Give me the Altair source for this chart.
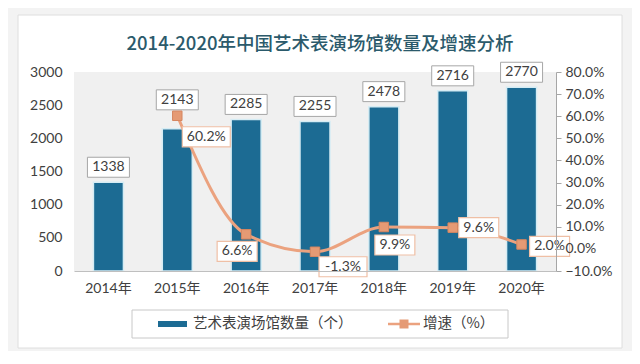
import altair as alt
import pandas as pd

# ---------------- data ----------------
years = ['2014年', '2015年', '2016年', '2017年', '2018年', '2019年', '2020年']
counts = [1338, 2143, 2285, 2255, 2478, 2716, 2770]
growth = [None, 60.2, 6.6, -1.3, 9.9, 9.6, 2.0]
left_ticks = [0, 500, 1000, 1500, 2000, 2500, 3000]
right_ticks = [-10, 0, 10, 20, 30, 40, 50, 60, 70, 80]

TITLE = '2014-2020年中国艺术表演场馆数量及增速分析'
LBL_BAR = '艺术表演场馆数量（个）'
LBL_LINE = '增速（%）'

df = pd.DataFrame({'year': years, 'count': counts, 'growth': growth})
df['count_label'] = df['count'].astype(str)
df['growth_label'] = [f'{g:.1f}%' if pd.notna(g) else '' for g in df['growth']]

# ---------------- style ----------------
W, H = 482, 199
FONT = "Lato, 'Noto Sans CJK SC', sans-serif"
CJK = "'Noto Sans CJK SC', sans-serif"
BLUE = '#1c6b93'
SALMON = '#eba27f'
TXT = '#404040'

# label placement relative to the data point (style, per category)
bar_label_dy = {'2015年': -29}
pct_label_off = {
    '2015年': (29, 21), '2016年': (-9, 17), '2017年': (28, 15),
    '2018年': (11, 18), '2019年': (26, 0), '2020年': (28, 2),
}


def box_path(w, h):
    r = h / w
    return f'M-1,{-r:.3f}H1V{r:.3f}H-1Z'


x = alt.X('year:N', sort=years, title=None,
          scale=alt.Scale(paddingInner=0, paddingOuter=0),
          axis=alt.Axis(orient='bottom', labelAngle=0, ticks=False, grid=False,
                        domainColor='#bfbfbf', labelFont=FONT, labelFontSize=14,
                        labelColor=TXT, labelPadding=10, zindex=1))

yL = alt.Y('count:Q', title=None,
           scale=alt.Scale(domain=[0, 3000], nice=False),
           axis=alt.Axis(orient='left', values=left_ticks, format='d', domain=False,
                         ticks=False, grid=False, labelPadding=12, labelFont=FONT,
                         labelFontSize=14, labelColor=TXT, zindex=1))

yR = alt.Y('growth:Q', title=None,
           scale=alt.Scale(domain=[-10, 80], nice=False),
           axis=alt.Axis(orient='right', values=right_ticks,
                         labelExpr="format(datum.value, '.1f') + '%'",
                         domainColor='#a6a6a6', tickColor='#a6a6a6', tickSize=5,
                         grid=False, labelPadding=4, labelFont=FONT, labelFontSize=14,
                         labelColor=TXT, zindex=1))

# ---------------- decorations (card, title, plot background, legend) ----------------
one = alt.Data(values=[{}])
card = alt.Chart(one).mark_rect(fill='white', stroke='#dedede', strokeWidth=1).encode(
    x=alt.value(-56), x2=alt.value(548), y=alt.value(-57), y2=alt.value(276))
title = alt.Chart(one).mark_text(
    align='center', baseline='middle', font=CJK, fontSize=18.5, fontWeight=500,
    color='#2b5a6b'
).encode(x=alt.value(W / 2 + 5), y=alt.value(-28), text=alt.value(TITLE))
plot_bg = alt.Chart(one).mark_rect(fill='#f0f0f0').encode(
    x=alt.value(0), x2=alt.value(W), y=alt.value(0), y2=alt.value(H))
legend_box = alt.Chart(one).mark_rect(fill='white', stroke='#c8c8c8', strokeWidth=1).encode(
    x=alt.value(58), x2=alt.value(434), y=alt.value(238), y2=alt.value(266))
LY = 252
leg_bar = alt.Chart(one).mark_rect(fill=BLUE).encode(
    x=alt.value(84), x2=alt.value(113), y=alt.value(LY - 3), y2=alt.value(LY + 3))
leg_bar_txt = alt.Chart(one).mark_text(
    align='left', baseline='middle', font=CJK, fontSize=14.5, color=TXT
).encode(x=alt.value(119), y=alt.value(LY), text=alt.value(LBL_BAR))
leg_line = alt.Chart(one).mark_rule(stroke=SALMON, strokeWidth=2.5).encode(
    x=alt.value(314), x2=alt.value(346), y=alt.value(LY))
leg_sq = alt.Chart(one).mark_square(size=81, filled=True, fill='#e59a74', opacity=1).encode(
    x=alt.value(330), y=alt.value(LY))
leg_line_txt = alt.Chart(one).mark_text(
    align='left', baseline='middle', font=CJK, fontSize=14.5, color=TXT
).encode(x=alt.value(349), y=alt.value(LY), text=alt.value(LBL_LINE))

# ---------------- bars (left axis) ----------------
base = alt.Chart(df)
bars = base.mark_bar(size=30, fill=BLUE, stroke='#d5ecf4', strokeWidth=1.5).encode(x=x, y=yL)

bar_layers = [bars]
special = list(bar_label_dy.keys())
groups = [(f"indexof({special!r}, datum.year) < 0", -15)] + [
    (f"datum.year === '{k}'", v) for k, v in bar_label_dy.items()]
for cond, dy in groups:
    sub = base.transform_filter(cond)
    bar_layers.append(sub.mark_point(
        shape=box_path(42, 20), size=42 * 42, filled=True, fill='white',
        stroke='#a6a6a6', strokeWidth=1, opacity=1, yOffset=dy
    ).encode(x=x, y=yL))
    bar_layers.append(sub.mark_text(
        yOffset=dy, fontSize=14, font=FONT, color=TXT, align='center', baseline='middle'
    ).encode(x=x, y=yL, text='count_label:N'))
left = alt.layer(*bar_layers)

# ---------------- growth line (right axis) ----------------
gbase = base.transform_filter('isValid(datum.growth)')
line = gbase.mark_line(interpolate='monotone', strokeWidth=3, stroke=SALMON).encode(x=x, y=yR)
points = gbase.mark_square(size=90, filled=True, fill='#e59a74', stroke='#d68660',
                           strokeWidth=1, opacity=1).encode(x=x, y=yR)

line_layers = [line, points]
for yr, (dx, dy) in pct_label_off.items():
    lab = df.loc[df['year'] == yr, 'growth_label'].iloc[0]
    w = 8 * len(lab) + 8
    sub = gbase.transform_filter(f"datum.year === '{yr}'")
    line_layers.append(sub.mark_point(
        shape=box_path(w, 20), size=w * w, filled=True, fill='white',
        stroke='#efbfa5', strokeWidth=1.2, opacity=1, xOffset=dx, yOffset=dy
    ).encode(x=x, y=yR))
    line_layers.append(sub.mark_text(
        xOffset=dx, yOffset=dy, fontSize=14, font=FONT, color=TXT,
        align='center', baseline='middle'
    ).encode(x=x, y=yR, text='growth_label:N'))
right = alt.layer(*line_layers)

chart = alt.layer(
    card, title, plot_bg, legend_box, leg_bar, leg_bar_txt, leg_line, leg_sq, leg_line_txt,
    left, right
).resolve_scale(
    y='independent'
).properties(
    width=W, height=H,
    padding={'left': 66, 'top': 64, 'right': 76, 'bottom': 80},
    autosize=alt.AutoSizeParams(type='none'),
    background='#f3f3f3',
).configure_view(stroke=None)

chart.save('out.html', embed_options={'renderer': 'svg', 'actions': False})
